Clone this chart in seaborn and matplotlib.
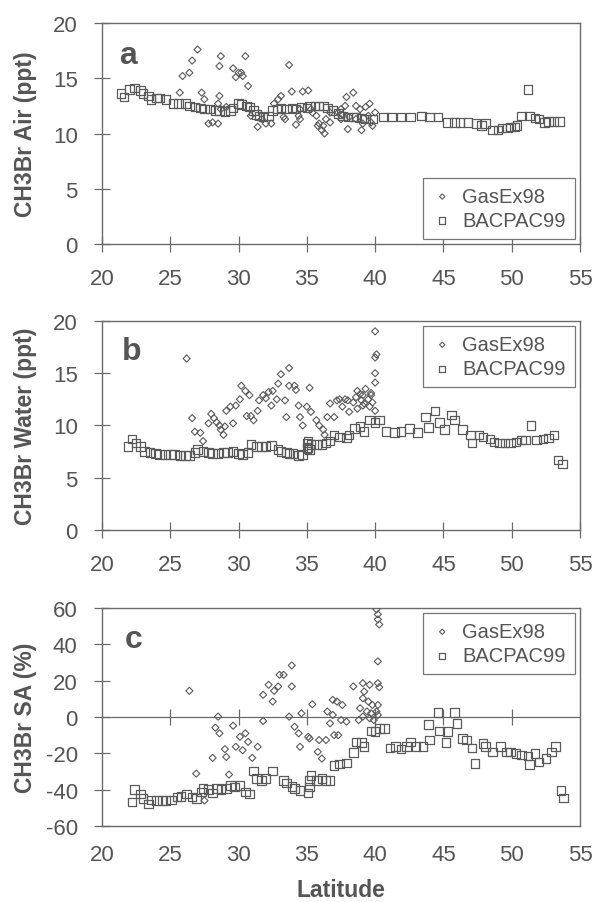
import matplotlib
matplotlib.use("Agg")
import matplotlib.pyplot as plt
import seaborn as sns
import numpy as np

# ---------------- data ----------------
# Panel a : CH3Br in air (ppt)
air_gasex_lat = [25.7, 25.9, 26.4, 26.6, 27.0, 27.3, 27.5, 27.8, 28.1, 28.5, 28.7, 28.6, 28.6, 28.5, 28.7,
                 29.1, 29.6, 29.8, 30.0, 30.2, 30.3, 30.5, 30.7, 30.9, 31.4, 31.7, 32.0, 32.4, 32.6, 32.9,
                 33.1, 33.4, 33.7, 33.9, 34.2, 34.4, 34.5, 34.7, 35.1, 35.3, 35.7, 35.9, 36.2, 36.4, 36.7,
                 37.3, 37.5, 37.8, 37.9, 38.0, 38.4, 38.6, 38.9, 39.0, 39.1, 39.3, 39.6, 39.7, 39.8, 40.0,
                 39.5, 38.6, 38.1, 37.6, 36.3, 36.1, 37.5, 35.8, 36.7, 34.5, 33.3, 35.4]
air_gasex = [13.7, 15.2, 15.5, 16.6, 17.6, 13.7, 13.1, 10.9, 11.0, 10.9, 17.0, 16.1, 13.4, 12.7, 12.2,
             12.4, 15.9, 15.1, 15.5, 15.5, 15.2, 17.0, 14.3, 11.6, 10.6, 11.3, 10.9, 10.9, 12.7, 13.1,
             13.4, 11.3, 16.2, 13.8, 10.8, 11.6, 12.2, 13.8, 13.9, 12.2, 11.6, 10.9, 10.7, 11.3, 11.9,
             11.9, 12.2, 12.5, 13.3, 10.4, 13.7, 12.5, 12.2, 10.3, 10.9, 12.4, 12.7, 11.0, 10.7, 11.9,
             11.6, 11.3, 11.5, 11.7, 10.0, 10.3, 11.3, 10.7, 11.0, 11.3, 11.5, 11.9]

air_bacpac_lat = [21.4, 21.6, 22.0, 22.4, 22.8, 23.0, 23.4, 23.6, 24.0, 24.2, 24.7, 25.2, 25.6, 26.1, 26.4,
                  26.8, 27.2, 27.5, 27.9, 28.3, 28.6, 29.0, 29.4, 29.6, 30.0, 30.2, 30.6, 30.8, 31.1, 31.3,
                  31.5, 31.8, 32.2, 32.5, 32.8, 33.1, 33.5, 33.9, 34.2, 34.6, 35.0, 35.2, 35.6, 35.9, 36.2,
                  36.5, 36.9, 37.3, 37.6, 38.0, 38.4, 38.6, 39.0, 39.3, 39.8, 40.6, 41.2, 41.9, 42.6, 43.4,
                  44.0, 44.6, 45.3, 45.8, 46.2, 46.8, 47.4, 47.8, 48.1, 48.6, 49.0, 49.3, 49.7, 49.9, 50.2,
                  50.4, 50.7, 51.3, 51.7, 52.0, 52.4, 52.7, 53.1, 53.5, 51.2]
air_bacpac = [13.6, 13.3, 14.0, 14.1, 13.9, 13.6, 13.4, 13.1, 13.2, 13.2, 13.1, 12.7, 12.7, 12.7, 12.5,
              12.4, 12.3, 12.2, 12.2, 12.1, 12.1, 12.0, 12.1, 12.3, 12.7, 12.6, 12.5, 12.4, 12.1, 11.7,
              11.6, 11.5, 11.6, 12.1, 12.2, 12.3, 12.2, 12.3, 12.2, 12.4, 12.3, 12.5, 12.5, 12.5, 12.5,
              12.3, 12.1, 11.8, 11.6, 11.5, 11.5, 11.5, 11.4, 11.3, 11.3, 11.5, 11.5, 11.5, 11.5, 11.6,
              11.5, 11.5, 11.0, 11.0, 11.0, 11.0, 10.9, 10.7, 10.9, 10.3, 10.3, 10.5, 10.5, 10.6, 10.6,
              10.7, 11.6, 11.6, 11.4, 11.3, 11.0, 11.1, 11.1, 11.1, 14.0]

# Panel b : CH3Br in water (ppt)
water_gasex_lat = [26.2, 26.6, 26.8, 27.2, 27.4, 27.8, 28.0, 28.2, 28.4, 28.6, 28.7, 28.9, 29.0, 29.1, 29.4,
                   29.6, 29.8, 30.1, 30.2, 30.5, 30.6, 30.8, 30.9, 31.1, 31.4, 31.5, 31.8, 32.0, 32.2, 32.4,
                   32.5, 32.8, 32.9, 33.1, 33.4, 33.5, 33.7, 33.7, 34.1, 34.2, 34.4, 34.5, 34.7, 35.0, 35.2,
                   35.3, 35.7, 35.9, 36.2, 36.3, 36.5, 36.7, 37.0, 37.2, 37.4, 37.6, 37.8, 38.0, 38.1, 38.4,
                   38.6, 38.7, 38.9, 39.0, 39.1, 39.2, 39.3, 39.5, 39.6, 39.7, 39.8, 40.0, 40.0, 40.0, 40.0,
                   40.1, 40.0, 39.7, 39.1, 38.7]
water_gasex = [16.4, 10.7, 9.4, 9.3, 8.5, 10.2, 11.1, 10.7, 10.3, 10.0, 9.6, 9.1, 9.9, 11.4, 11.8,
               10.2, 11.9, 12.5, 13.8, 13.3, 10.9, 12.9, 10.9, 10.5, 11.4, 12.4, 12.9, 12.6, 13.2, 11.9,
               13.3, 12.5, 14.0, 14.9, 12.4, 10.8, 15.5, 13.8, 13.8, 13.4, 11.9, 10.8, 10.0, 11.8, 13.6,
               11.3, 10.5, 10.0, 9.6, 9.1, 10.8, 12.1, 10.8, 12.4, 12.5, 11.8, 12.5, 12.4, 11.3, 12.2,
               12.7, 13.3, 13.0, 12.4, 12.9, 12.1, 13.5, 12.5, 11.8, 12.9, 12.2, 11.4, 14.1, 15.0, 16.5,
               16.8, 19.0, 13.1, 11.9, 11.6]

water_bacpac_lat = [21.9, 22.2, 22.5, 22.8, 23.1, 23.5, 23.9, 24.2, 24.6, 25.0, 25.3, 25.7, 26.1, 26.4, 26.8,
                    27.0, 27.4, 27.8, 28.1, 28.5, 28.9, 29.2, 29.6, 30.0, 30.3, 30.7, 30.9, 31.3, 31.7, 32.0,
                    32.4, 32.9, 33.1, 33.5, 33.7, 34.0, 34.4, 34.7, 35.0, 35.1, 35.2, 35.3, 35.0, 35.1, 35.7,
                    36.1, 36.4, 36.7, 37.0, 37.4, 37.9, 38.1, 38.5, 38.9, 39.2, 39.6, 40.0, 40.3, 40.8, 41.4,
                    41.9, 42.5, 43.1, 43.7, 43.9, 44.4, 44.7, 45.1, 45.6, 45.8, 46.4, 47.0, 47.1, 47.6, 47.9,
                    48.4, 48.7, 49.1, 49.5, 49.9, 50.3, 50.7, 51.0, 51.4, 51.8, 52.3, 52.7, 53.1, 53.4, 53.7]
water_bacpac = [8.0, 8.7, 8.3, 8.0, 7.5, 7.4, 7.3, 7.2, 7.2, 7.2, 7.2, 7.1, 7.1, 7.1, 7.4,
                7.7, 7.5, 7.4, 7.3, 7.3, 7.4, 7.4, 7.5, 7.3, 7.2, 7.4, 8.2, 8.0, 8.0, 8.0,
                8.1, 7.7, 7.5, 7.4, 7.3, 7.3, 7.1, 7.2, 8.3, 7.9, 7.7, 8.2, 7.8, 8.5, 8.2,
                8.2, 8.3, 8.5, 9.1, 8.9, 8.8, 9.1, 9.7, 9.9, 9.4, 10.5, 10.3, 10.5, 9.4, 9.3,
                9.4, 9.7, 9.3, 10.8, 9.8, 11.4, 10.3, 9.6, 11.0, 10.5, 9.6, 9.1, 8.3, 9.1, 8.9,
                8.7, 8.4, 8.3, 8.3, 8.3, 8.4, 8.6, 8.6, 10.0, 8.6, 8.7, 8.8, 9.1, 6.7, 6.3]

# Panel c : CH3Br saturation anomaly (%)
sa_gasex_lat = [26.4, 28.5, 28.3, 28.6, 29.6, 26.9, 28.1, 29.0, 29.1, 29.8, 30.1, 30.5, 30.3, 30.7, 31.0,
                31.4, 29.3, 31.8, 31.8, 32.2, 32.6, 32.5, 32.9, 33.0, 33.3, 33.9, 33.9, 33.7, 34.6, 35.4,
                34.1, 34.4, 34.5, 35.1, 35.2, 35.9, 35.8, 36.1, 36.4, 36.5, 36.9, 37.2, 36.9, 37.0, 36.7,
                37.6, 37.5, 37.9, 37.3, 38.4, 39.1, 39.2, 39.6, 40.2, 40.3, 39.1, 39.5, 39.8, 38.9, 39.4,
                39.7, 40.1, 39.1, 39.6, 39.9, 40.2, 40.2, 38.8, 40.1, 40.2, 40.2, 40.3, 40.2, 27.5]
sa_gasex = [14.4, 0.2, -5.9, -9.0, -4.8, -31.2, -22.5, -17.7, -22.0, -16.4, -10.9, -9.0, -18.3, -13.7, -22.5,
            -16.4, -31.7, -2.2, 12.2, 17.7, 14.4, 8.5, 16.8, 23.2, 23.2, 28.4, 16.8, 0.2, 2.0, 7.0,
            -5.4, -9.0, -16.4, -10.9, -11.8, -12.7, -19.2, -22.9, -12.7, 3.0, 9.4, 8.5, 1.1, -10.0, -3.5,
            6.6, -1.7, -2.6, -10.0, 16.8, 18.6, 14.0, 17.7, 18.6, 16.4, 10.3, 8.5, 6.6, 4.8, 3.0,
            2.0, 3.0, 0.2, -0.7, -1.7, 6.6, 1.1, -1.7, 59.2, 56.5, 53.7, 50.9, 30.6, -46.0]

sa_bacpac_lat = [22.2, 22.4, 22.8, 23.0, 23.4, 23.6, 24.0, 24.4, 24.7, 25.1, 25.5, 25.8, 26.2, 26.6, 26.9,
                 27.3, 27.4, 27.8, 28.1, 28.4, 28.7, 29.1, 29.4, 29.7, 30.1, 30.5, 30.8, 31.1, 31.3, 31.7,
                 32.0, 32.5, 33.3, 33.5, 33.9, 34.1, 34.5, 35.1, 35.2, 35.2, 35.3, 35.7, 36.1, 36.4, 36.7,
                 37.0, 37.4, 37.9, 38.4, 38.6, 39.0, 39.2, 39.7, 40.0, 40.3, 40.7, 41.1, 41.5, 41.9, 42.3,
                 42.6, 43.0, 43.5, 44.0, 43.9, 44.6, 44.7, 45.2, 45.3, 45.8, 46.0, 46.4, 46.7, 47.1, 47.3,
                 47.9, 48.1, 48.6, 49.2, 49.6, 49.9, 50.3, 50.7, 51.2, 51.3, 51.7, 52.0, 52.5, 52.9, 53.2,
                 53.6, 53.8]
sa_bacpac = [-46.9, -40.0, -42.3, -45.0, -47.8, -45.6, -45.9, -45.9, -45.9, -45.6, -44.1, -43.7, -42.3, -44.1, -45.0,
             -41.3, -39.5, -40.0, -41.9, -39.5, -40.0, -39.5, -37.6, -38.6, -37.6, -41.3, -42.3, -29.7, -33.9, -34.9,
             -33.9, -29.7, -34.9, -36.3, -38.2, -39.5, -40.4, -41.9, -38.6, -34.9, -32.1, -34.9, -33.9, -34.9, -34.9,
             -26.6, -26.0, -25.3, -19.7, -13.7, -14.2, -16.4, -7.6, -8.1, -6.3, -6.3, -17.0, -16.4, -17.7, -16.4,
             -13.7, -16.4, -16.4, -12.7, -4.1, 2.6, -7.7, -14.0, -8.1, 2.6, -3.5, -11.8, -12.7, -17.0, -25.6,
             -14.6, -16.4, -19.2, -16.4, -19.2, -19.2, -20.1, -21.0, -21.6, -26.2, -20.1, -24.7, -22.9, -19.2, -16.4,
             -40.4, -44.6]

xticks = [20, 25, 30, 35, 40, 45, 50, 55]
panels = [
    dict(letter="a", ylabel="CH3Br Air (ppt)", ylim=(0, 20), yticks=[0, 5, 10, 15, 20],
         gx=air_gasex_lat, gy=air_gasex, bx=air_bacpac_lat, by=air_bacpac, legloc="lower right"),
    dict(letter="b", ylabel="CH3Br Water (ppt)", ylim=(0, 20), yticks=[0, 5, 10, 15, 20],
         gx=water_gasex_lat, gy=water_gasex, bx=water_bacpac_lat, by=water_bacpac, legloc="upper right"),
    dict(letter="c", ylabel="CH3Br SA (%)", ylim=(-60, 60), yticks=[-60, -40, -20, 0, 20, 40, 60],
         gx=sa_gasex_lat, gy=sa_gasex, bx=sa_bacpac_lat, by=sa_bacpac, legloc="upper right"),
]

# ---------------- style ----------------
sns.set_theme(style="white")
plt.rcParams["font.family"] = ["Liberation Sans", "DejaVu Sans"]
plt.rcParams["axes.unicode_minus"] = False
TXT = "#555555"
AX = "#6a6a6a"
MK = "#5a5a5a"

fig = plt.figure(figsize=(5.94, 9.03), dpi=100)
positions = [
    [0.1717, 0.7287, 0.8047, 0.2447],
    [0.1717, 0.4120, 0.8047, 0.2315],
    [0.1717, 0.0842, 0.8047, 0.2414],
]

for i, (p, pos) in enumerate(zip(panels, positions)):
    ax = fig.add_axes(pos)
    sns.scatterplot(x=p["gx"], y=p["gy"], marker="D", s=13, facecolor="none",
                    edgecolor=MK, linewidth=0.8, label="GasEx98", ax=ax, zorder=3)
    sns.scatterplot(x=p["bx"], y=p["by"], marker="s", s=38, facecolor="none",
                    edgecolor=MK, linewidth=0.9, label="BACPAC99", ax=ax, zorder=3)
    ax.set_xlim(20, 55)
    ax.set_ylim(*p["ylim"])
    ax.set_xticks(xticks)
    ax.set_yticks(p["yticks"])
    for s in ax.spines.values():
        s.set_color(AX)
        s.set_linewidth(1.0)
    ax.tick_params(axis="both", direction="inout", length=11, width=0.9, color=AX,
                   labelsize=16, labelcolor=TXT, pad=12,
                   bottom=True, left=True, top=False, right=False)
    ax.set_ylabel(p["ylabel"], fontsize=16.5, fontweight="bold", color=TXT)
    ax.yaxis.set_label_coords(-0.135, 0.5)
    ax.set_xlabel("")
    ax.text(0.035 + 0.006 * i, 0.82, p["letter"], transform=ax.transAxes, fontsize=23,
            fontweight="bold", color=TXT, va="baseline", ha="left")
    if p["letter"] == "c":
        ax.axhline(0, color=AX, lw=0.9, zorder=1)
        ax.plot(xticks[1:-1], [0] * len(xticks[1:-1]), ls="none", marker="|", ms=11,
                mew=0.9, color=AX, zorder=1)
        ax.tick_params(axis="x", length=0, pad=13)
        ax.set_xlabel("Latitude", fontsize=16.5, fontweight="bold", color=TXT, labelpad=9)
    leg = ax.legend(loc=p["legloc"], fontsize=14.5, frameon=True, fancybox=False,
                    edgecolor="#777777", framealpha=1, borderaxespad=0.25,
                    handlelength=1.0, handletextpad=0.5, borderpad=0.45,
                    labelspacing=0.25, markerscale=0.75)
    leg.get_frame().set_linewidth(0.9)
    for t in leg.get_texts():
        t.set_color(TXT)

fig.savefig("out.png", dpi=100)
